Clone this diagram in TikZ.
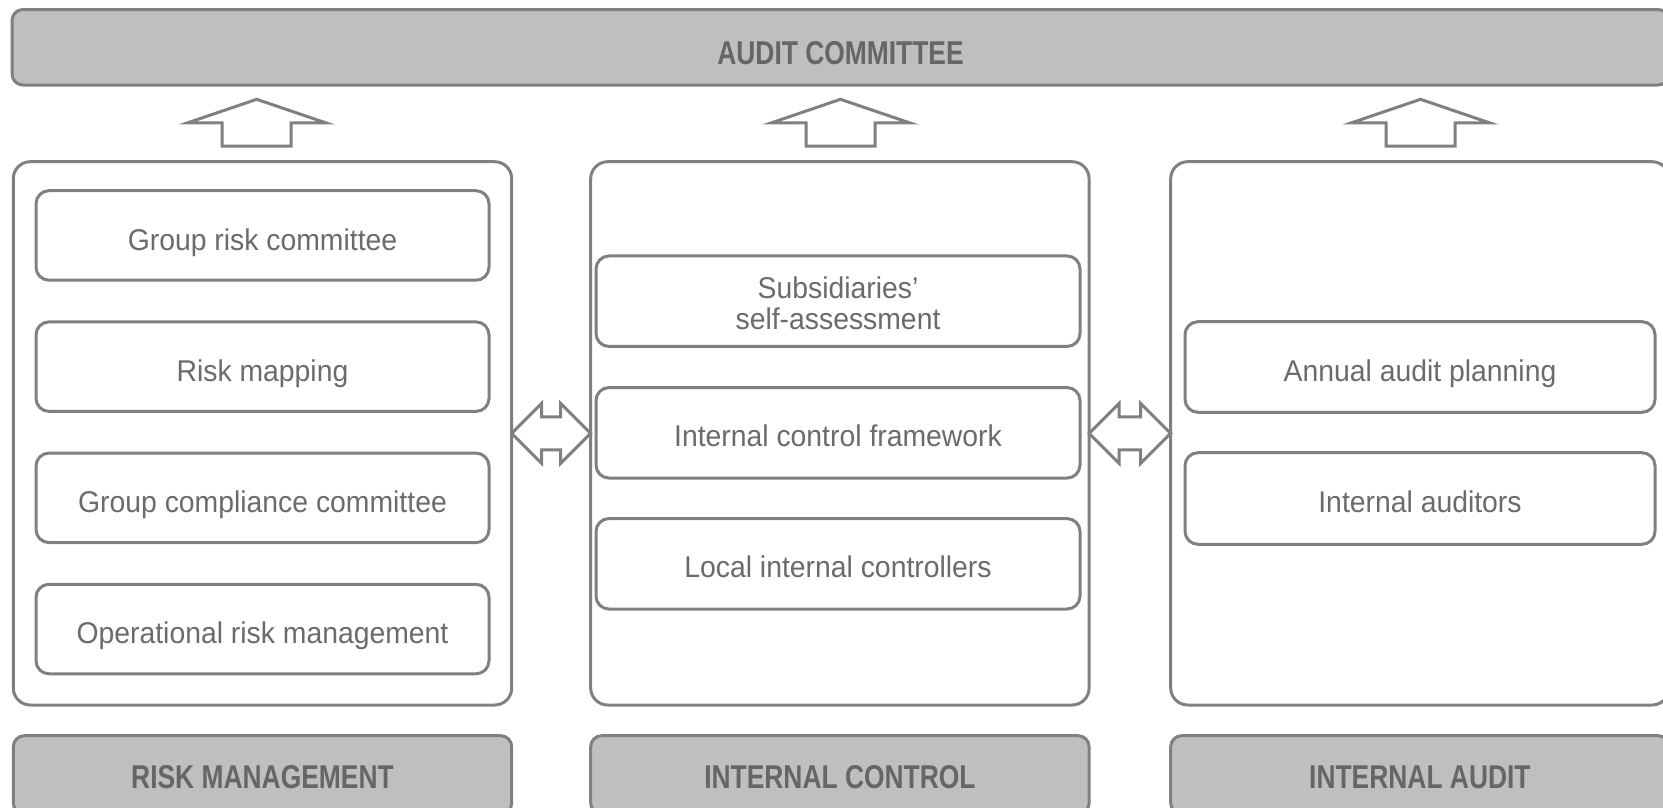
\documentclass[tikz,border=0pt]{standalone}
\usepackage{fontspec}
\setmainfont{Liberation Sans}
\newfontfamily\bodyf{Liberation Sans}[FakeStretch=0.945]
\newfontfamily\headf{Liberation Sans}[FakeStretch=0.8]
\usetikzlibrary{calc}
\definecolor{lc}{HTML}{808080}
\definecolor{hf}{HTML}{BFBFBF}
\definecolor{tc}{HTML}{6B6B6B}
\definecolor{hc}{HTML}{666666}
\begin{document}
\begin{tikzpicture}[x=1pt,y=-1pt, line width=3pt,
  box/.style={draw=lc, rounded corners=13pt, inner sep=0pt, outer sep=0pt, fill=white},
  txt/.style={font=\bodyf\fontsize{30}{31}\selectfont, text=tc, align=center, inner sep=0pt},
  panel/.style={draw=lc, rounded corners=17pt, inner sep=0pt, outer sep=0pt},
  header/.style={draw=lc, fill=hf, rounded corners=11pt, inner sep=0pt, outer sep=0pt},
  htxt/.style={font=\headf\bfseries\fontsize{33}{36}\selectfont, text=hc, inner sep=0pt},
  blockarrow/.style={draw=lc, line join=miter, fill=white}]
\useasboundingbox (0,0) rectangle (1663,807);
\clip (0,0) rectangle (1663,807);

% audit committee bar
\node[header, minimum width=1657pt, minimum height=75.5pt,
  label={[htxt, yshift=-6pt]center:AUDIT COMMITTEE}] (ac) at (840.5,47.25) {};

% panels
\node[panel, minimum width=498.4pt, minimum height=543.3pt] (p1) at (262.5,433.35) {};
\node[panel, minimum width=498.4pt, minimum height=543.3pt] (p2) at (839.9,433.35) {};
\node[panel, minimum width=498.4pt, minimum height=543.3pt] (p3) at (1419.9,433.35) {};

% bottom headers
\node[header, minimum width=498.4pt, minimum height=78.3pt,
  label={[htxt, yshift=-2pt]center:RISK MANAGEMENT}] (h1) at (262.5,774.85) {};
\node[header, minimum width=498.4pt, minimum height=78.3pt,
  label={[htxt, yshift=-2pt]center:INTERNAL CONTROL}] (h2) at (839.9,774.85) {};
\node[header, minimum width=498.4pt, minimum height=78.3pt,
  label={[htxt, yshift=-2pt]center:INTERNAL AUDIT}] (h3) at (1419.9,774.85) {};

% panel 1 items
\node[box, minimum width=453pt, minimum height=89.5pt,
  label={[txt, yshift=-7pt]center:Group risk committee}] (r1) at (262.5,235.45) {};
\node[box, minimum width=453pt, minimum height=89.5pt,
  label={[txt, yshift=-7pt]center:Risk mapping}] (r2) at (262.5,366.65) {};
\node[box, minimum width=453pt, minimum height=89.5pt,
  label={[txt, yshift=-7pt]center:Group compliance committee}] (r3) at (262.5,497.85) {};
\node[box, minimum width=453pt, minimum height=89.5pt,
  label={[txt, yshift=-7pt]center:Operational risk management}] (r4) at (262.5,629.05) {};

% panel 2 items
\node[box, minimum width=484pt, minimum height=90.5pt,
  label={[txt, yshift=-2pt]center:Subsidiaries’\\self-assessment}] (c1) at (838,301.2) {};
\node[box, minimum width=484pt, minimum height=90.5pt,
  label={[txt, yshift=-2.5pt]center:Internal control framework}] (c2) at (838,432.8) {};
\node[box, minimum width=484pt, minimum height=90.5pt,
  label={[txt, yshift=-2.5pt]center:Local internal controllers}] (c3) at (838,563.8) {};

% panel 3 items
\node[box, minimum width=470pt, minimum height=90.6pt,
  label={[txt, yshift=-7pt]center:Annual audit planning}] (a1) at (1420,367) {};
\node[box, minimum width=470pt, minimum height=91.6pt,
  label={[txt, yshift=-3.5pt]center:Internal auditors}] (a2) at (1420,498.5) {};

% up arrows
\coordinate (u1) at (256.7,99.3);
\coordinate (u2) at (840.5,99.3);
\coordinate (u3) at (1420.5,99.3);
\foreach \u in {u1,u2,u3}{
  \draw[blockarrow, shift={(\u)}] (0,0) -- (69,23.5) -- (34.5,23.5) -- (34.5,46.7)
    -- (-34.5,46.7) -- (-34.5,23.5) -- (-69,23.5) -- cycle;
}

% double arrows
\draw[blockarrow] (p1.east) -- ($(p1.east)+(30,-30)$) -- ($(p1.east)+(30,-16.5)$)
  -- ($(p2.west)+(-30,-16.5)$) -- ($(p2.west)+(-30,-30)$) -- (p2.west)
  -- ($(p2.west)+(-30,30)$) -- ($(p2.west)+(-30,16.5)$) -- ($(p1.east)+(30,16.5)$)
  -- ($(p1.east)+(30,30)$) -- cycle;
\draw[blockarrow] (p2.east) -- ($(p2.east)+(30,-30)$) -- ($(p2.east)+(30,-16.5)$)
  -- ($(p3.west)+(-30,-16.5)$) -- ($(p3.west)+(-30,-30)$) -- (p3.west)
  -- ($(p3.west)+(-30,30)$) -- ($(p3.west)+(-30,16.5)$) -- ($(p2.east)+(30,16.5)$)
  -- ($(p2.east)+(30,30)$) -- cycle;
\end{tikzpicture}
\end{document}
